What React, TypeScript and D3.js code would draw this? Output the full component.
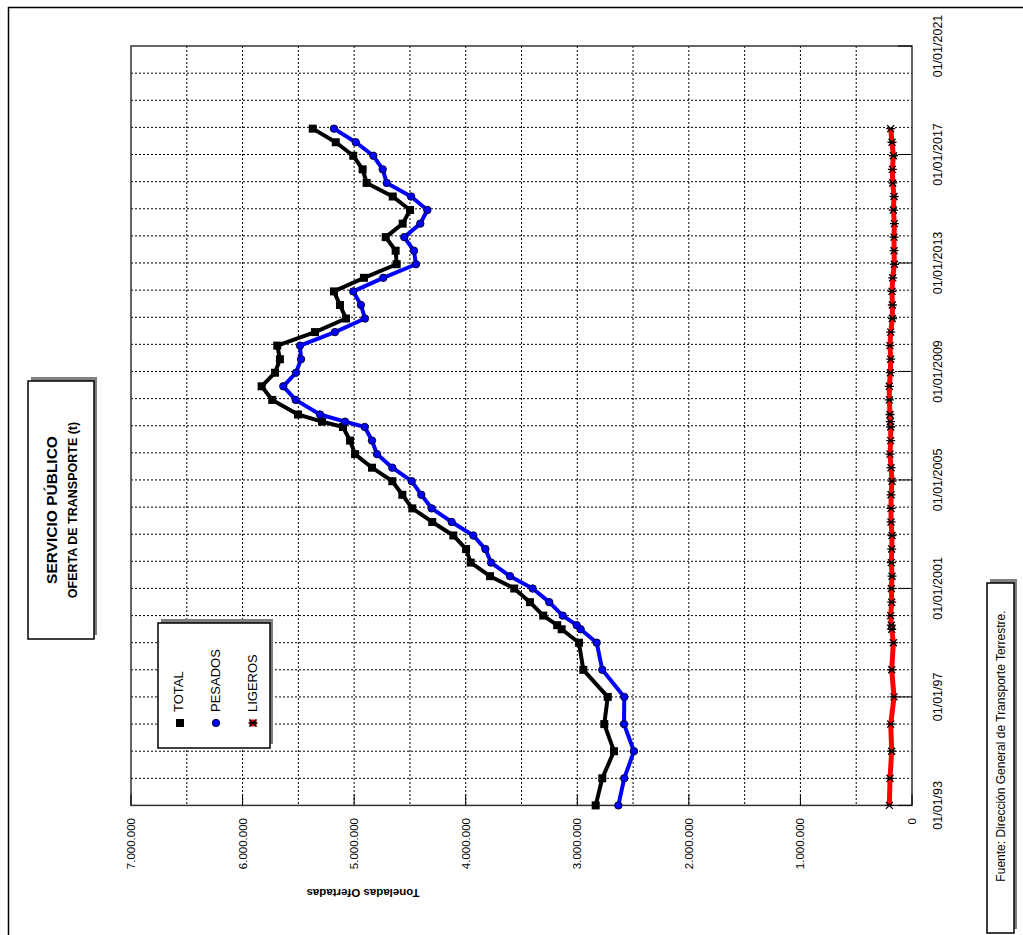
import React from "react";
import * as d3 from "d3";

// ---- Data ----
const dates: string[] = [
  "1993-01-01", "1994-01-01", "1995-01-01", "1996-01-01", "1997-01-01", "1998-01-01", "1999-01-01",
  "1999-07-01", "1999-08-25", "2000-01-01", "2000-06-30", "2000-12-31",
  "2001-06-15", "2001-12-15", "2002-06-15", "2002-12-15", "2003-06-15", "2003-12-15",
  "2004-06-15", "2004-12-15", "2005-06-15", "2005-12-15", "2006-06-15", "2006-12-15",
  "2007-02-25", "2007-06-01", "2007-12-15", "2008-06-15", "2008-12-15", "2009-06-15", "2009-12-15",
  "2010-06-15", "2010-12-15", "2011-06-15", "2011-12-15", "2012-06-15", "2012-12-15",
  "2013-06-15", "2013-12-15", "2014-06-15", "2014-12-15", "2015-06-15", "2015-12-15",
  "2016-06-15", "2016-12-15", "2017-06-15", "2017-12-15",
];

const total: number[] = [
  2835000, 2776000, 2671000, 2758000, 2727000, 2946000, 2985000,
  3140000, 3180000, 3305000, 3424000, 3565000,
  3782000, 3955000, 3997000, 4111000, 4300000, 4479000,
  4568000, 4658000, 4840000, 4992000, 5037000, 5100000,
  5288000, 5503000, 5734000, 5829000, 5709000, 5665000, 5689000,
  5351000, 5073000, 5127000, 5181000, 4912000, 4619000,
  4628000, 4717000, 4565000, 4499000, 4654000, 4888000,
  4924000, 5008000, 5165000, 5371000,
];

const pesados: number[] = [
  2632000, 2579000, 2492000, 2581000, 2579000, 2776000, 2826000,
  2970000, 3005000, 3131000, 3251000, 3400000,
  3603000, 3773000, 3824000, 3932000, 4126000, 4305000,
  4398000, 4484000, 4658000, 4795000, 4840000, 4905000,
  5082000, 5306000, 5524000, 5635000, 5521000, 5476000, 5485000,
  5172000, 4903000, 4939000, 5008000, 4739000, 4446000,
  4464000, 4551000, 4407000, 4344000, 4490000, 4708000,
  4744000, 4828000, 4986000, 5181000,
];

const ligeros: number[] = [
  203000, 197000, 182000, 191000, 161000, 182000, 167000,
  182000, 185000, 191000, 182000, 185000,
  179000, 185000, 182000, 179000, 188000, 188000,
  188000, 179000, 188000, 197000, 191000, 191000,
  194000, 197000, 203000, 203000, 194000, 191000, 197000,
  191000, 176000, 176000, 179000, 173000, 158000,
  161000, 161000, 158000, 167000, 161000, 173000,
  176000, 167000, 179000, 191000,
];

const valueTicks: number[] = [0, 1000000, 2000000, 3000000, 4000000, 5000000, 6000000, 7000000];
const valueTickLabels: string[] = ["0", "1.000.000", "2.000.000", "3.000.000", "4.000.000", "5.000.000", "6.000.000", "7.000.000"];
const dateTicks: string[] = ["1993-01-01", "1997-01-01", "2001-01-01", "2005-01-01", "2009-01-01", "2013-01-01", "2017-01-01", "2021-01-01"];
const dateTickLabels: string[] = ["01/01/93", "01/01/97", "01/01/2001", "01/01/2005", "01/01/2009", "01/01/2013", "01/01/2017", "01/01/2021"];

const titleLine1 = "SERVICIO PÚBLICO";
const titleLine2 = "OFERTA DE TRANSPORTE (t)";
const axisTitle = "Toneladas Ofertadas";
const sourceText = "Fuente: Dirección General de Transporte Terrestre.";
const seriesNames: string[] = ["TOTAL", "PESADOS", "LIGEROS"];

const FONT = "'Liberation Sans', Arial, Helvetica, sans-serif";

export default function App() {
  const W = 1023, H = 935;
  const left = 131, right = 912, top = 46, bottom = 805.4;

  const parse = d3.timeParse("%Y-%m-%d");
  const dts = dates.map((d) => parse(d) as Date);

  const x = d3.scaleLinear().domain([0, 7000000]).range([right, left]);
  const y = d3.scaleTime()
    .domain([parse("1993-01-01") as Date, parse("2021-01-01") as Date])
    .range([bottom, top]);

  const minorValues = d3.range(500000, 7000000, 500000);
  const yearGrid = d3.timeYear.range(parse("1994-01-01") as Date, parse("2021-01-01") as Date);

  const line = (vals: number[]) =>
    d3.line<number>()
      .x((v) => x(v))
      .y((_, i) => y(dts[i]))(vals) as string;

  const starPath = "M-3.5,-3.5L3.5,3.5M-3.5,3.5L3.5,-3.5M-4.5,0L4.5,0";

  return (
    <svg width={W} height={H} style={{ position: "absolute", left: 0, top: 0, background: "#fff" }} fontFamily={FONT}>
      <rect x={0} y={0} width={W} height={H} fill="#fff" />
      {/* outer frame */}
      <rect x={8.5} y={7.5} width={1200} height={1200} fill="none" stroke="#000" strokeWidth={1.5} />

      {/* gridlines: vertical (values) */}
      {minorValues.map((v) => (
        <line key={"gv" + v} x1={x(v)} x2={x(v)} y1={top} y2={bottom} stroke="#000" strokeWidth={1} strokeDasharray="2,2" />
      ))}
      {/* gridlines: horizontal (years) */}
      {yearGrid.map((d) => (
        <line key={"gh" + d.getTime()} x1={left} x2={right} y1={y(d)} y2={y(d)} stroke="#000" strokeWidth={1} strokeDasharray="2,2" />
      ))}

      {/* plot border */}
      <rect x={left} y={top} width={right - left} height={bottom - top} fill="none" stroke="#333" strokeWidth={1.5} />

      {/* ticks inside */}
      {valueTicks.map((v) => (
        <line key={"tv" + v} x1={x(v)} x2={x(v)} y1={bottom} y2={bottom - 11} stroke="#000" strokeWidth={1} />
      ))}
      {dateTicks.map((d) => (
        <line key={"td" + d} x1={right} x2={right - 14} y1={y(parse(d) as Date)} y2={y(parse(d) as Date)} stroke="#000" strokeWidth={1} />
      ))}

      {/* value tick labels */}
      {valueTicks.map((v, i) => (
        <text key={"lv" + v} transform={`translate(${x(v)},818) rotate(-90)`} textAnchor="end" dy="0.35em" fontSize={11.5} fill="#000">
          {valueTickLabels[i]}
        </text>
      ))}
      {/* date tick labels */}
      {dateTicks.map((d, i) => (
        <text key={"ld" + d} transform={`translate(938,${y(parse(d) as Date)}) rotate(-90)`} textAnchor="middle" dy="0.35em" fontSize={12.5} fill="#000">
          {dateTickLabels[i]}
        </text>
      ))}

      {/* axis title (upside down) */}
      <text transform="translate(363,893) rotate(180)" textAnchor="middle" dy="0.35em" fontSize={11.5} fontWeight="bold" fill="#000">
        {axisTitle}
      </text>

      {/* series */}
      <path d={line(total)} fill="none" stroke="#000" strokeWidth={4} strokeLinejoin="round" />
      {total.map((v, i) => (
        <rect key={"mt" + i} x={x(v) - 4} y={y(dts[i]) - 4} width={8} height={8} fill="#000" />
      ))}
      <path d={line(pesados)} fill="none" stroke="#0000ff" strokeWidth={4} strokeLinejoin="round" />
      {pesados.map((v, i) => (
        <circle key={"mp" + i} cx={x(v)} cy={y(dts[i])} r={3.7} fill="#0000ff" stroke="#000033" strokeWidth={1} />
      ))}
      <path d={line(ligeros)} fill="none" stroke="#ff0000" strokeWidth={5} strokeLinejoin="round" />
      {ligeros.map((v, i) => (
        <path key={"ml" + i} d={starPath} transform={`translate(${x(v)},${y(dts[i])})`} stroke="#000" strokeWidth={1.3} fill="none" />
      ))}

      {/* title box */}
      <rect x={31} y={377} width={66} height={258} fill="#808080" />
      <rect x={28} y={381} width={66} height={258} fill="#fff" stroke="#000" strokeWidth={1.5} />
      <text transform="translate(57,510) rotate(-90)" textAnchor="middle" fontSize={15.5} fontWeight="bold" fill="#000">
        {titleLine1}
      </text>
      <text transform="translate(77,510) rotate(-90)" textAnchor="middle" fontSize={12.5} fontWeight="bold" fill="#000">
        {titleLine2}
      </text>

      {/* legend */}
      <rect x={161} y={619} width={112} height={125} fill="#808080" />
      <rect x={158} y={623} width={112} height={125} fill="#fff" stroke="#000" strokeWidth={1.5} />
      {seriesNames.map((name, i) => (
        <text key={"lg" + name} transform={`translate(${183 + i * 37},712) rotate(-90)`} textAnchor="start" fontSize={13} fill="#000">
          {name}
        </text>
      ))}
      <rect x={176} y={719} width={8} height={8} fill="#000" />
      <circle cx={216} cy={723} r={3.7} fill="#0000ff" stroke="#000033" strokeWidth={1} />
      <line x1={249.5} x2={256.5} y1={723} y2={723} stroke="#ff0000" strokeWidth={7} />
      <path d={starPath} transform="translate(253,723)" stroke="#000" strokeWidth={1.3} fill="none" />

      {/* source box */}
      <rect x={990} y={579} width={27} height={350} fill="#808080" />
      <rect x={987} y={583} width={27} height={350} fill="#fff" stroke="#000" strokeWidth={1.5} />
      <text transform="translate(1001,746) rotate(-90)" textAnchor="middle" dy="0.35em" fontSize={12} fill="#000">
        {sourceText}
      </text>
    </svg>
  );
}
